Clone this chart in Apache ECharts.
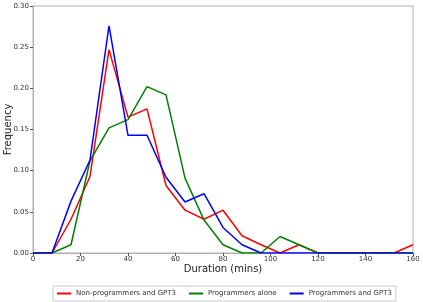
<!DOCTYPE html>
<html><head><meta charset="utf-8">
<script src="https://cdn.jsdelivr.net/npm/echarts@6/dist/echarts.min.js"></script>
<style>html,body{margin:0;padding:0;background:#fff}#c{width:423px;height:302px}</style>
</head><body><div id="c"></div>
<script>
const durations = [0,8,16,24,32,40,48,56,64,72,80,88,96,104,112,120,128,136,144,152,160];
const nonProgGPT3 = [0,0,0.041,0.093,0.247,0.165,0.175,0.082,0.052,0.041,0.052,0.021,0.010,0,0.010,0,0,0,0,0,0.010];
const progAlone   = [0,0,0.010,0.112,0.152,0.162,0.202,0.192,0.091,0.040,0.010,0,0,0.020,0.010,0,0,0,0,0,0];
const progGPT3    = [0,0,0.063,0.113,0.276,0.143,0.143,0.092,0.062,0.072,0.031,0.010,0,0,0,0,0,0,0,0,0];
const seriesNames = ['Non-programmers and GPT3','Programmers alone','Programmers and GPT3'];
const colors = ['#ff0000','#008000','#0000ff'];
const pairs = a => durations.map((d,i)=>[d,a[i]]);
const dataSets = [nonProgGPT3, progAlone, progGPT3];
const font = 'DejaVu Sans';
const chart = echarts.init(document.getElementById('c'));
const axisLine = {show:true, lineStyle:{color:'#b0b0b0', width:1}};
chart.setOption({
  animation:false,
  grid:{left:33, right:10, top:6, bottom:49, containLabel:false, outerBoundsMode:'none',
    show:true, borderColor:'#b0b0b0', borderWidth:1},
  xAxis:{type:'value', min:0, max:160, interval:20,
    name:'Duration (mins)', nameLocation:'middle', nameGap:11, nameMoveOverlap:false,
    nameTextStyle:{fontFamily:font, fontSize:10, color:'#222', verticalAlign:'top'},
    axisLine:axisLine, axisTick:{show:true, length:3, lineStyle:{color:'#555'}},
    axisLabel:{fontFamily:font, fontSize:7, color:'#333', margin:3},
    splitLine:{show:false}},
  yAxis:{type:'value', min:0, max:0.30, interval:0.05,
    name:'Frequency', nameLocation:'middle', nameGap:20, nameMoveOverlap:false,
    nameTextStyle:{fontFamily:font, fontSize:10, color:'#222'},
    axisLine:axisLine, axisTick:{show:true, length:3, lineStyle:{color:'#555'}},
    axisLabel:{fontFamily:font, fontSize:7, color:'#333', margin:4, formatter:v=>v.toFixed(2)},
    splitLine:{show:false}},
  legend:{bottom:1, left:53, itemWidth:14, itemHeight:2, itemGap:13,
    icon:'rect', borderColor:'#ccc', borderWidth:1, padding:[4,4],
    textStyle:{fontFamily:font, fontSize:7, color:'#333'},
    data:seriesNames},
  series: seriesNames.map((n,i)=>({
    name:n, type:'line', data:pairs(dataSets[i]), showSymbol:false, symbol:'none',
    lineStyle:{color:colors[i], width:1.5}, itemStyle:{color:colors[i]}
  }))
});
</script></body></html>
